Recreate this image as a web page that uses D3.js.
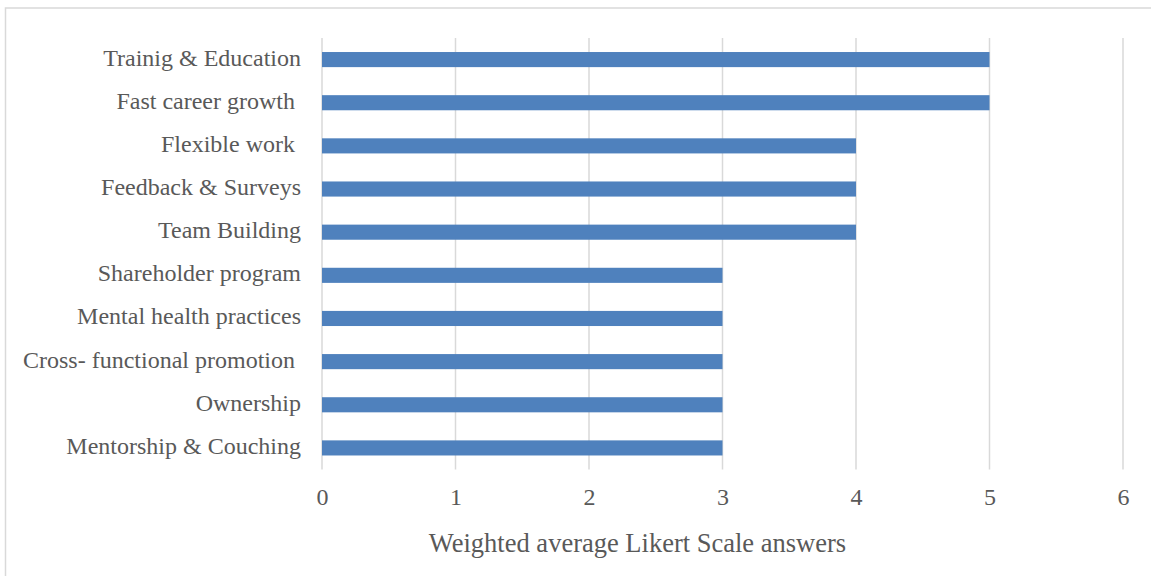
<!DOCTYPE html>
<html>
<head>
<meta charset="utf-8">
<script src="https://cdn.jsdelivr.net/npm/d3@7"></script>
<style>
  html, body { margin: 0; padding: 0; background: #fff; }
  svg { display: block; }
  text { font-family: "Liberation Serif", "Times New Roman", serif; fill: #595959; }
</style>
</head>
<body>
<svg id="chart" width="1151" height="576"></svg>
<script>
// Survey practices, top to bottom
const categories = [
  "Trainig & Education",
  "Fast career growth ",
  "Flexible work ",
  "Feedback & Surveys",
  "Team Building",
  "Shareholder program",
  "Mental health practices",
  "Cross- functional promotion ",
  "Ownership",
  "Mentorship & Couching"
];
const values = [5, 5, 4, 4, 4, 3, 3, 3, 3, 3];
const xTicks = [0, 1, 2, 3, 4, 5, 6];
const xTitle = "Weighted average Likert Scale answers";

const svg = d3.select("#chart");
const plot = { left: 322, right: 1123, top: 38, bottom: 469.5 };

// chart frame
svg.append("rect")
  .attr("x", 5.5).attr("y", 8)
  .attr("width", 1160).attr("height", 580)
  .attr("fill", "#fff")
  .attr("stroke", "#d9d9d9")
  .attr("stroke-width", 1.5);

const x = d3.scaleLinear().domain([0, 6]).range([plot.left, plot.right]);
const y = d3.scaleBand().domain(categories).range([plot.top, plot.bottom]).paddingInner(0.65).paddingOuter(0.325);

// vertical gridlines
svg.append("g")
  .selectAll("line")
  .data(xTicks)
  .join("line")
  .attr("x1", d => x(d)).attr("x2", d => x(d))
  .attr("y1", plot.top).attr("y2", plot.bottom)
  .attr("stroke", "#d9d9d9")
  .attr("stroke-width", 1.5);

// bars
svg.append("g")
  .selectAll("rect")
  .data(values)
  .join("rect")
  .attr("x", x(0))
  .attr("y", (d, i) => y(categories[i]))
  .attr("width", d => x(d) - x(0))
  .attr("height", y.bandwidth())
  .attr("fill", "#4f81bd");

// category axis
const yAxis = svg.append("g")
  .attr("transform", `translate(${plot.left},0)`)
  .call(d3.axisLeft(y).tickSize(0).tickPadding(21));
yAxis.select(".domain").remove();
yAxis.selectAll("text")
  .style("font-size", "24px")
  .attr("dy", "0.25em")
  .attr("xml:space", "preserve");

// value axis
const xAxis = svg.append("g")
  .attr("transform", `translate(0,${plot.bottom})`)
  .call(d3.axisBottom(x).tickValues(xTicks).tickFormat(d3.format("d")).tickSize(0).tickPadding(18));
xAxis.select(".domain").remove();
xAxis.selectAll("text").style("font-size", "24px");

// axis title
svg.append("text")
  .attr("x", 637.5)
  .attr("y", 552)
  .attr("text-anchor", "middle")
  .style("font-size", "26.5px")
  .text(xTitle);
</script>
</body>
</html>
